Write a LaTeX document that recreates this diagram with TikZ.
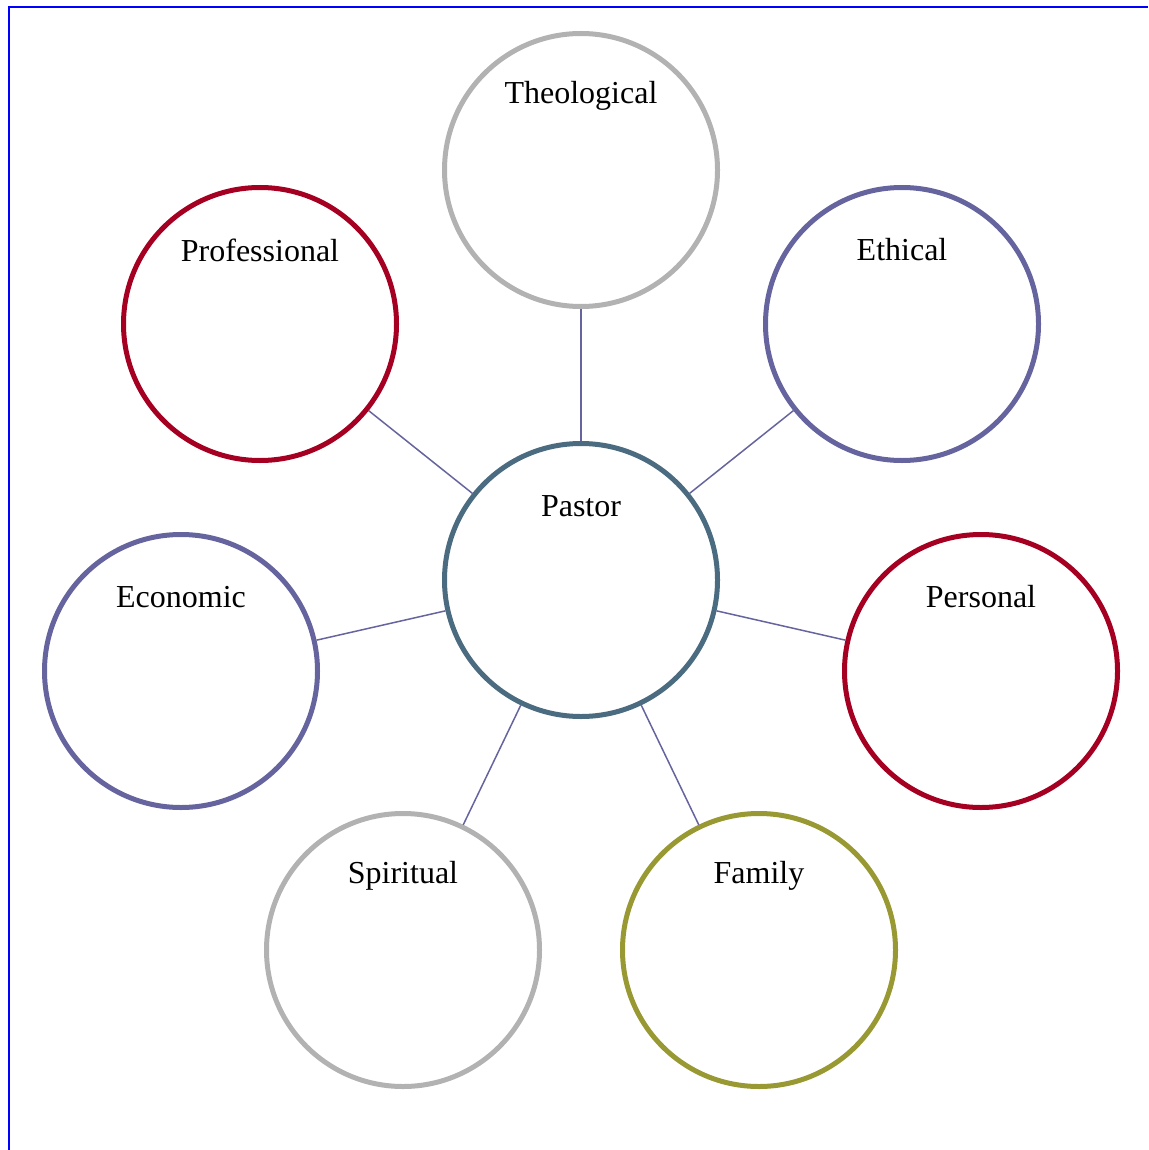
\documentclass[tikz,border=0pt]{standalone}
\usepackage{fontspec}
\setmainfont{Liberation Serif}
\usepackage{tikz}
\definecolor{wine}{RGB}{165,0,33}
\definecolor{slate}{RGB}{102,100,158}
\definecolor{ash}{RGB}{178,178,178}
\definecolor{petrol}{RGB}{74,107,128}
\definecolor{olive}{RGB}{153,153,51}
\tikzset{%
    bubble/.style={circle, line width=5pt, minimum size=273pt, inner sep=0pt,
        label={[font=\fontsize{32}{37}\selectfont, yshift=74pt]center:#1}},
    spoke/.style={draw=slate, line width=1.5pt}
}

\begin{document}
\begin{tikzpicture}[x=1pt,y=-1pt]
\useasboundingbox (0,0) rectangle (1148,1150);
\draw[blue, line width=2pt] (8.5,1150) -- (8.5,7.5) -- (1148,7.5);

\node[bubble=Pastor, draw=petrol] (pastor) at (581,580) {};
\node[bubble=Theological, draw=ash] (theo) at (581,170) {};
\node[bubble=Professional, draw=wine] (prof) at (260,324) {};
\node[bubble=Ethical, draw=slate] (ethic) at (902,324) {};
\node[bubble=Economic, draw=slate] (econ) at (181,671) {};
\node[bubble=Personal, draw=wine] (pers) at (981,671) {};
\node[bubble=Spiritual, draw=ash] (spirit) at (403,950) {};
\node[bubble=Family, draw=olive] (family) at (759,950) {};

\foreach \n in {theo,prof,ethic,econ,pers,spirit,family}
    \draw[spoke] (pastor) -- (\n);
\end{tikzpicture}
\end{document}
